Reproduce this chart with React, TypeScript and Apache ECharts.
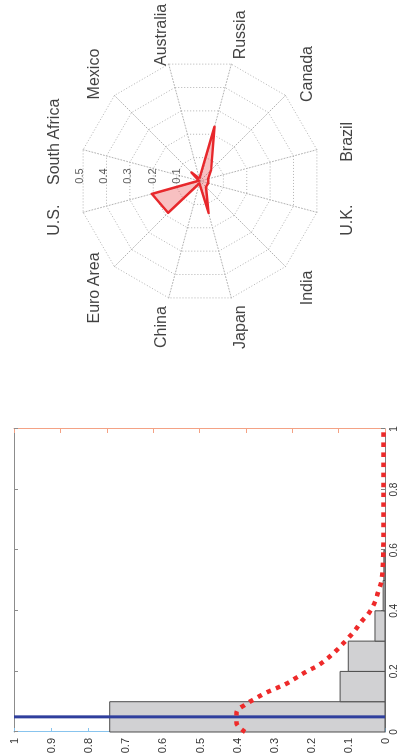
import React, { useEffect, useRef } from "react";
import * as echarts from "echarts";

// ---- Radar data ----
const countries = [
  "Australia",
  "Mexico",
  "South Africa",
  "U.S.",
  "Euro Area",
  "China",
  "Japan",
  "India",
  "U.K.",
  "Brazil",
  "Canada",
  "Russia",
];
const exposure = [0.01, 0.05, 0.005, 0.206, 0.186, 0.01, 0.137, 0.035, 0.035, 0.035, 0.065, 0.232];
const radarTicks = [0.1, 0.2, 0.3, 0.4, 0.5];
const radarMax = 0.5;

// ---- Histogram data ----
const binStarts = [0, 0.1, 0.2, 0.3, 0.4, 0.5];
const binEnds = [0.1, 0.2, 0.3, 0.4, 0.5, 0.6];
const binHeights = [0.742, 0.121, 0.099, 0.027, 0.005, 0.003];

// ---- Density curve ----
const curveX = [0, 0.03, 0.065, 0.09, 0.11, 0.13, 0.145, 0.16, 0.18, 0.2, 0.22, 0.245, 0.275, 0.305, 0.335, 0.365, 0.39, 0.43, 0.465, 0.5, 0.58, 0.7, 0.85, 1.0];
const curveY = [0.377, 0.4, 0.4, 0.377, 0.35, 0.32, 0.292, 0.265, 0.238, 0.211, 0.18, 0.153, 0.126, 0.103, 0.081, 0.063, 0.045, 0.027, 0.018, 0.009, 0.005, 0.004, 0.004, 0.004];

// ---- Vertical marker ----
const markerX = 0.05;

const xTicks = { min: 0, max: 1, interval: 0.2 };
const yTicks = { min: 0, max: 1, interval: 0.1 };
const y2Ticks = { min: 0, max: 8, interval: 1 };

const FONT = "Liberation Sans, Arial, Helvetica, sans-serif";

export default function App() {
  const ref = useRef<HTMLDivElement | null>(null);

  useEffect(() => {
    if (!ref.current) return;
    const chart = echarts.init(ref.current, undefined, { renderer: "svg" });
    const labelRadius = radarMax * 1.25;
    const startAngle = 15;
    const step = 360 / countries.length;

    const option: any = {
      animation: false,
      textStyle: { fontFamily: FONT },
      grid: {
        left: 23,
        top: 14,
        width: 303,
        height: 371,
        containLabel: false,
        outerBoundsMode: "none",
      },
      xAxis: [
        {
          type: "value",
          position: "bottom",
          ...xTicks,
          axisLine: { show: true, onZero: false, lineStyle: { color: "#808080", width: 1 } },
          axisTick: { show: true, inside: true, length: 4, lineStyle: { color: "#808080" } },
          axisLabel: { color: "#333", fontSize: 10, margin: 3, fontFamily: FONT },
          splitLine: { show: false },
        },
        {
          type: "value",
          position: "top",
          ...xTicks,
          axisLine: { show: true, onZero: false, lineStyle: { color: "#8c8c8c", width: 1 } },
          axisTick: { show: true, inside: true, length: 4, lineStyle: { color: "#8c8c8c" } },
          axisLabel: { show: false },
          splitLine: { show: false },
        },
      ],
      yAxis: [
        {
          type: "value",
          position: "left",
          ...yTicks,
          axisLine: { show: true, onZero: false, lineStyle: { color: "#88c4ee", width: 1 } },
          axisTick: { show: true, inside: true, length: 4, lineStyle: { color: "#88c4ee" } },
          axisLabel: { color: "#333", fontSize: 11, margin: 6, fontFamily: FONT },
          splitLine: { show: false },
        },
        {
          type: "value",
          position: "right",
          ...y2Ticks,
          axisLine: { show: true, onZero: false, lineStyle: { color: "#f4a285", width: 1 } },
          axisTick: { show: true, inside: true, length: 4, lineStyle: { color: "#f4a285" } },
          axisLabel: { show: false },
          splitLine: { show: false },
        },
      ],
      radar: {
        center: [574, 200],
        radius: 121,
        startAngle: startAngle,
        shape: "polygon",
        splitNumber: radarTicks.length,
        indicator: countries.map((name) => ({ name, min: 0, max: radarMax })),
        axisName: { show: false },
        axisLine: { lineStyle: { color: "#b3b3b3", width: 1, type: [1, 2] } },
        splitLine: { lineStyle: { color: "#b3b3b3", width: 1, type: [1, 2] } },
        splitArea: { show: false },
        axisTick: { show: false },
        axisLabel: { show: false },
      },
      polar: { center: [574, 200], radius: 121 },
      angleAxis: { type: "value", min: 0, max: 360, startAngle: 0, clockwise: false, show: false },
      radiusAxis: { type: "value", min: 0, max: radarMax, show: false },
      series: [
        {
          type: "custom",
          xAxisIndex: 0,
          yAxisIndex: 0,
          encode: { x: [0, 1], y: 2 },
          data: binStarts.map((s, i) => [s, binEnds[i], binHeights[i]]),
          renderItem: (params: any, api: any) => {
            const p0 = api.coord([api.value(0), api.value(2)]);
            const p1 = api.coord([api.value(1), 0]);
            return {
              type: "rect",
              shape: { x: p0[0], y: p0[1], width: p1[0] - p0[0], height: p1[1] - p0[1] },
              style: { fill: "#d1d1d3", stroke: "#4d4d4d", lineWidth: 1 },
            };
          },
          z: 2,
        },
        {
          type: "line",
          xAxisIndex: 0,
          yAxisIndex: 0,
          data: [
            [markerX, yTicks.min],
            [markerX, yTicks.max],
          ],
          symbol: "none",
          lineStyle: { color: "#2f3f9d", width: 3 },
          z: 3,
        },
        {
          type: "line",
          xAxisIndex: 0,
          yAxisIndex: 0,
          data: curveX.map((x, i) => [x, curveY[i]]),
          smooth: 0.35,
          symbol: "none",
          lineStyle: { color: "#ee2a2a", width: 4.5, type: [4.5, 5.5], cap: "butt" },
          z: 4,
        },
        {
          type: "radar",
          symbol: "none",
          data: [{ value: exposure, name: "exposure" }],
          lineStyle: { color: "#e8282c", width: 2.5 },
          itemStyle: { color: "#e8282c" },
          areaStyle: { color: "rgba(232,40,44,0.42)" },
          z: 3,
        },
        {
          type: "scatter",
          coordinateSystem: "polar",
          silent: true,
          clip: false,
          symbolSize: 1,
          itemStyle: { color: "rgba(0,0,0,0)" },
          label: {
            show: true,
            position: "inside",
            formatter: "{b}",
            fontSize: 16,
            color: "#111",
            fontFamily: FONT,
          },
          data: countries.map((name, i) => ({ name, value: [labelRadius, startAngle + step * i] })),
          z: 5,
        },
        {
          type: "scatter",
          coordinateSystem: "polar",
          silent: true,
          clip: false,
          symbolSize: 1,
          itemStyle: { color: "rgba(0,0,0,0)" },
          label: {
            show: true,
            position: "inside",
            offset: [5, 0],
            formatter: "{b}",
            fontSize: 11,
            color: "#333",
            fontFamily: FONT,
          },
          data: radarTicks.map((v) => ({ name: String(v), value: [v, 90] })),
          z: 5,
        },
      ],
    };
    chart.setOption(option);
    return () => {
      chart.dispose();
    };
  }, []);

  return (
    <div
      ref={ref}
      style={{
        position: "fixed",
        left: 0,
        top: 0,
        width: 755,
        height: 400,
        background: "#fff",
        transformOrigin: "0 0",
        transform: "translate(0px, 755px) rotate(-90deg)",
      }}
    />
  );
}
